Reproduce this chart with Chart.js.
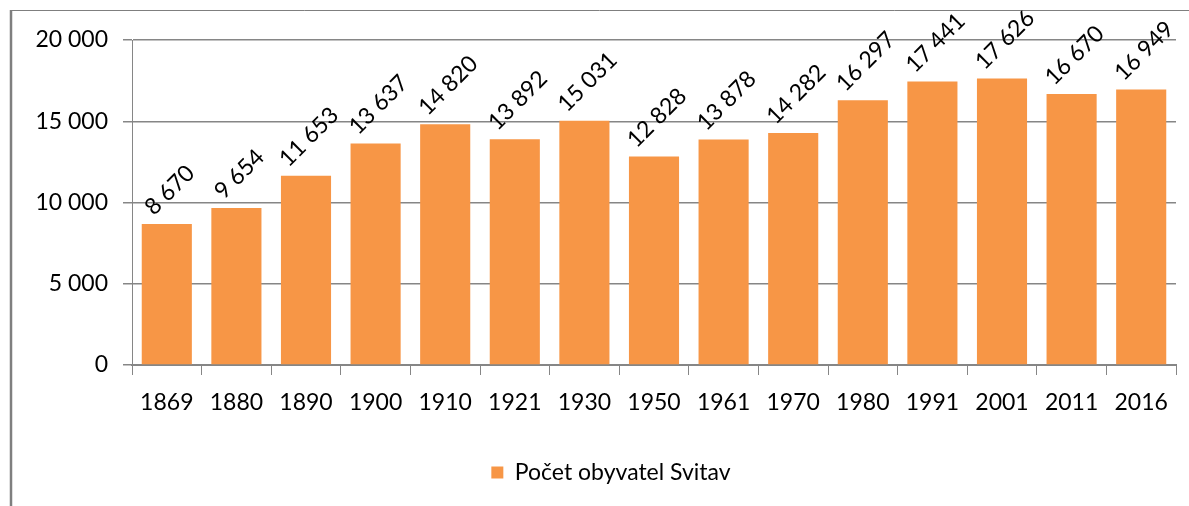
<!DOCTYPE html>
<html>
<head>
<meta charset="utf-8">
<script src="https://cdn.jsdelivr.net/npm/chart.js@4/dist/chart.umd.min.js"></script>
<style>
  html, body { margin: 0; padding: 0; background: #fff; }
  #wrap { width: 1189px; height: 506px; }
</style>
</head>
<body>
<div id="wrap"><canvas id="chart" width="1189" height="506"></canvas></div>
<script>
// Population of Svitavy by census year
const years = ['1869', '1880', '1890', '1900', '1910', '1921', '1930', '1950', '1961', '1970', '1980', '1991', '2001', '2011', '2016'];
const population = [8670, 9654, 11653, 13637, 14820, 13892, 15031, 12828, 13878, 14282, 16297, 17441, 17626, 16670, 16949];
const yTicks = [0, 5000, 10000, 15000, 20000];

const FONT = 'Lato, "Noto Sans", sans-serif';
const GRID = '#868686';
const ORANGE = '#F79646';

function fmt(v) {
    // thousands separated by a space, as in the original
    return String(v).replace(/\B(?=(\d{3})+(?!\d))/g, ' ');
}

// outer frame of the chart (left + top edge only are visible)
const framePlugin = {
    id: 'frame',
    afterLayout(chart) {
        // legend sits a bit right of the canvas centre in the original
        chart.legend.left += 23;
        chart.legend.right += 23;
    },
    beforeDraw(chart) {
        const ctx = chart.ctx;
        ctx.save();
        ctx.fillStyle = '#fff';
        ctx.fillRect(0, 0, chart.width, chart.height);
        ctx.strokeStyle = '#7f7f7f';
        ctx.lineWidth = 2.5;
        ctx.beginPath();
        ctx.moveTo(11, chart.height);
        ctx.lineTo(11, 10);
        ctx.stroke();
        ctx.lineWidth = 1;
        ctx.beginPath();
        ctx.moveTo(10, 10.5);
        ctx.lineTo(chart.width, 10.5);
        ctx.stroke();
        ctx.restore();
    }
};

// rotated value labels above each bar
const labelPlugin = {
    id: 'barLabels',
    afterDatasetsDraw(chart) {
        const ctx = chart.ctx;
        const meta = chart.getDatasetMeta(0);
        ctx.save();
        ctx.font = '23px ' + FONT;
        ctx.fillStyle = '#000';
        ctx.textAlign = 'center';
        ctx.textBaseline = 'middle';
        meta.data.forEach((bar, i) => {
            const txt = fmt(population[i]);
            const w = ctx.measureText(txt).width;
            const off = w / 2 * Math.SQRT1_2 + 13;
            ctx.save();
            ctx.translate(bar.x + 3, bar.y - off);
            ctx.rotate(-Math.PI / 4);
            ctx.fillText(txt, 0, 0);
            ctx.restore();
        });
        ctx.restore();
    }
};

const ctx = document.getElementById('chart').getContext('2d');
const chart = new Chart(ctx, {
    type: 'bar',
    data: {
        labels: years,
        datasets: [{
            label: 'Počet obyvatel Svitav',
            data: population,
            backgroundColor: ORANGE,
            borderWidth: 0,
            barPercentage: 0.72,
            categoryPercentage: 1.0
        }]
    },
    options: {
        responsive: false,
        animation: false,
        layout: { padding: { top: 40, right: 13, bottom: 12, left: 0 } },
        plugins: {
            tooltip: { enabled: false },
            legend: {
                position: 'bottom',
                labels: {
                    color: '#000',
                    font: { family: FONT, size: 23 },
                    boxWidth: 12,
                    boxHeight: 12,
                    padding: 10
                }
            }
        },
        scales: {
            x: {
                afterFit(scale) { scale.height = 86; },
                grid: {
                    offset: true,
                    drawOnChartArea: false,
                    drawTicks: true,
                    tickLength: 10,
                    color: GRID,
                    lineWidth: 1
                },
                border: { color: GRID, width: 2 },
                ticks: {
                    color: '#000',
                    font: { family: FONT, size: 23 },
                    padding: 14,
                    maxRotation: 0,
                    autoSkip: false
                }
            },
            y: {
                min: 0,
                max: 20000,
                afterFit(scale) { scale.width = 132; },
                afterBuildTicks(scale) { scale.ticks = yTicks.map(v => ({ value: v })); },
                grid: {
                    color: GRID,
                    lineWidth: 1.5,
                    tickLength: 9,
                    drawTicks: true
                },
                border: { color: GRID, width: 1 },
                ticks: {
                    color: '#000',
                    font: { family: FONT, size: 23 },
                    padding: 15,
                    callback: v => fmt(v)
                }
            }
        }
    },
    plugins: [framePlugin, labelPlugin]
});
</script>
</body>
</html>
